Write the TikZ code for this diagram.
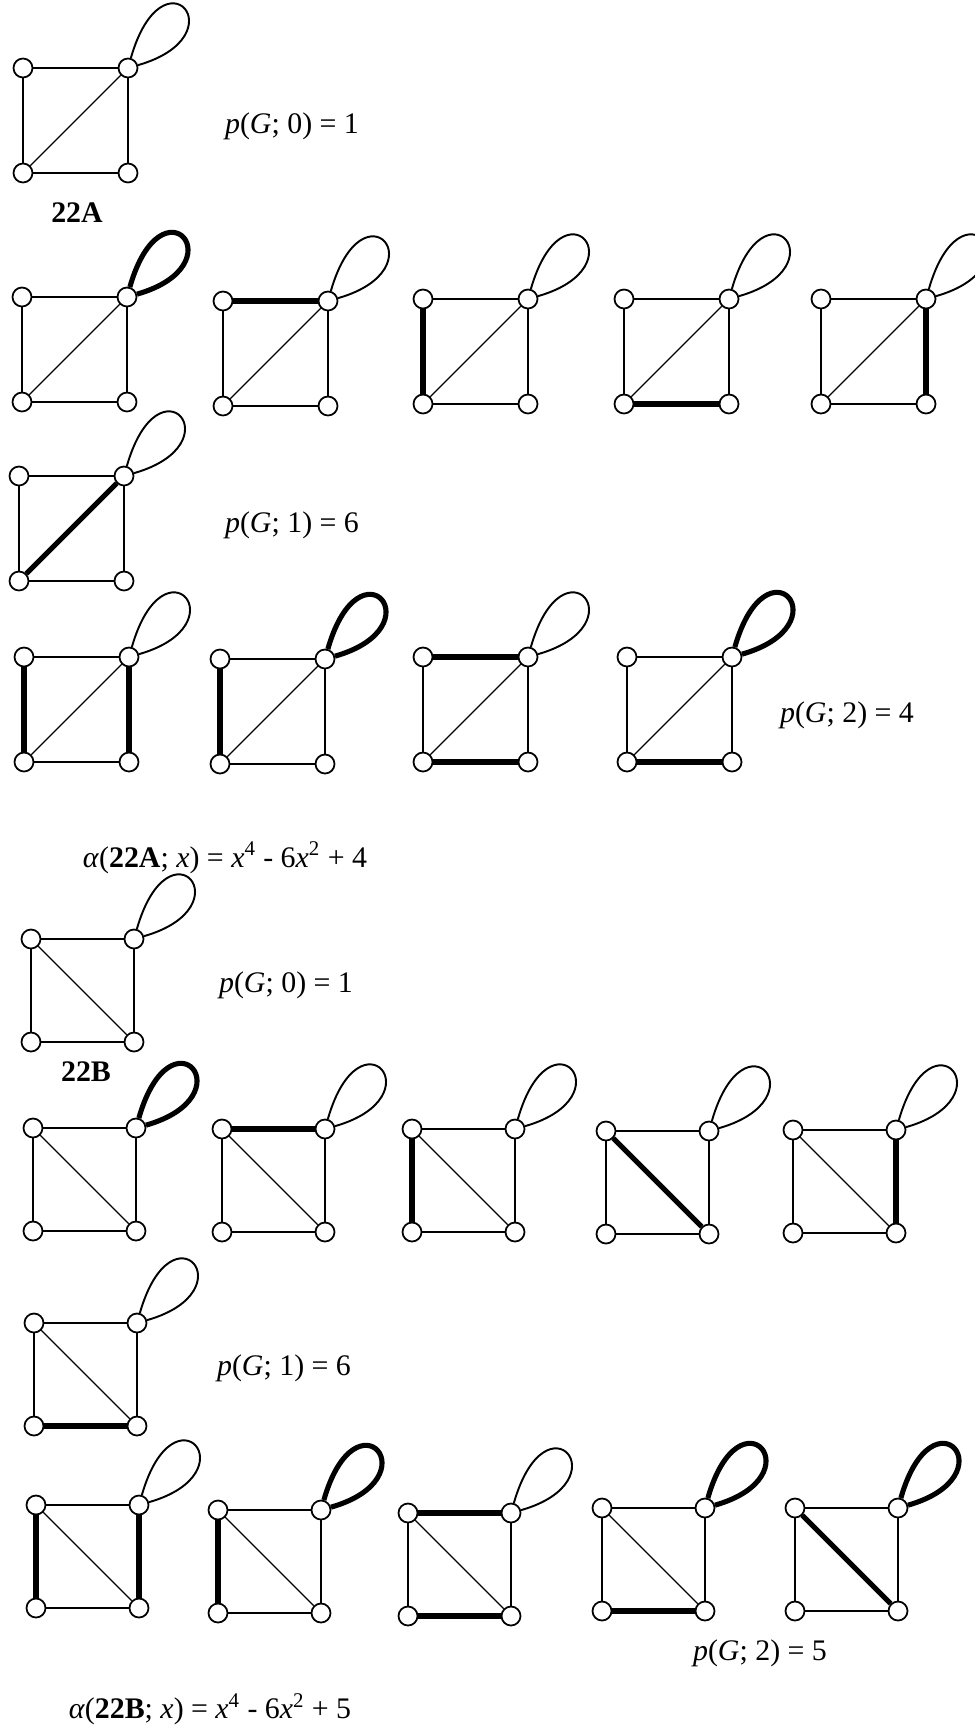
\documentclass[tikz,border=0pt]{standalone}
\usepackage{fontspec}
\setmainfont{Liberation Serif}

% side length and diagonal of the square graphs
\newcommand{\gside}{105}
\newcommand{\dfrom}{bl}
\newcommand{\dto}{tr}

% #1 name, #2 x, #3 y, then styles of: #4 loop, #5 top, #6 left, #7 bottom, #8 right, #9 diagonal
\newcommand{\sqgraph}[9]{%
  \node[vtx] (#1tl) at (#2,#3) {};
  \node[vtx] (#1tr) at (#2+\gside,#3) {};
  \node[vtx] (#1bl) at (#2,#3+\gside) {};
  \node[vtx] (#1br) at (#2+\gside,#3+\gside) {};
  \draw[#4] (#1tr) .. controls +(35,-122) and +(112,-32) .. (#1tr);
  \draw[#5] (#1tl) -- (#1tr);
  \draw[#6] (#1tl) -- (#1bl);
  \draw[#7] (#1bl) -- (#1br);
  \draw[#8] (#1tr) -- (#1br);
  \draw[#9] (#1\dfrom) -- (#1\dto);
}

\begin{document}
\begin{tikzpicture}[
    x=0.02cm, y=-0.02cm,
    vtx/.style={circle, draw, line width=1pt, fill=white, minimum size=0.38cm, inner sep=0pt},
    ed/.style={line width=1.1pt},
    dg/.style={line width=0.7pt},
    sel/.style={line width=2.9pt},
    lbl/.style={anchor=base, inner sep=0pt, font=\fontsize{17}{20}\selectfont}
  ]
  \useasboundingbox (0,0) rectangle (974,1727);

  % Graph 22A
  \sqgraph{a0}{23}{68}{ed}{ed}{ed}{ed}{ed}{dg}
  \node[lbl] (pa0) at (292,133) {\textit{p}(\textit{G}; 0) = 1};
  \node[lbl] (namea) at (77,222) {\textbf{22A}};

  % one edge
  \sqgraph{a1}{22}{297}{sel}{ed}{ed}{ed}{ed}{dg}
  \sqgraph{a2}{223}{301}{ed}{sel}{ed}{ed}{ed}{dg}
  \sqgraph{a3}{423}{299}{ed}{ed}{sel}{ed}{ed}{dg}
  \sqgraph{a4}{624}{299}{ed}{ed}{ed}{sel}{ed}{dg}
  \sqgraph{a5}{821}{299}{ed}{ed}{ed}{ed}{sel}{dg}
  \sqgraph{a6}{19}{476}{ed}{ed}{ed}{ed}{ed}{sel}
  \node[lbl] (pa1) at (292,532) {\textit{p}(\textit{G}; 1) = 6};

  % two edges
  \sqgraph{a7}{24}{657}{ed}{ed}{sel}{ed}{sel}{dg}
  \sqgraph{a8}{220}{659}{sel}{ed}{sel}{ed}{ed}{dg}
  \sqgraph{a9}{423}{657}{ed}{sel}{ed}{sel}{ed}{dg}
  \sqgraph{a10}{627}{657}{sel}{ed}{ed}{sel}{ed}{dg}
  \node[lbl] (pa2) at (847,722) {\textit{p}(\textit{G}; 2) = 4};

  \node[lbl] (polya) at (225,867) {\textit{α}(\textbf{22A}; \textit{x}) = \textit{x}\textsuperscript{4} - 6\textit{x}\textsuperscript{2} + 4};

  % Graph 22B
  \renewcommand{\gside}{103}
  \renewcommand{\dfrom}{tl}
  \renewcommand{\dto}{br}
  \sqgraph{b0}{31}{939}{ed}{ed}{ed}{ed}{ed}{dg}
  \node[lbl] (pb0) at (286,992) {\textit{p}(\textit{G}; 0) = 1};
  \node[lbl] (nameb) at (86,1081) {\textbf{22B}};

  % one edge
  \sqgraph{b1}{33}{1128}{sel}{ed}{ed}{ed}{ed}{dg}
  \sqgraph{b2}{222}{1129}{ed}{sel}{ed}{ed}{ed}{dg}
  \sqgraph{b3}{412}{1129}{ed}{ed}{sel}{ed}{ed}{dg}
  \sqgraph{b4}{606}{1131}{ed}{ed}{ed}{ed}{ed}{sel}
  \sqgraph{b5}{793}{1130}{ed}{ed}{ed}{ed}{sel}{dg}
  \sqgraph{b6}{34}{1323}{ed}{ed}{ed}{sel}{ed}{dg}
  \node[lbl] (pb1) at (284,1375) {\textit{p}(\textit{G}; 1) = 6};

  % two edges
  \sqgraph{b7}{36}{1505}{ed}{ed}{sel}{ed}{sel}{dg}
  \sqgraph{b8}{218}{1510}{sel}{ed}{sel}{ed}{ed}{dg}
  \sqgraph{b9}{408}{1513}{ed}{sel}{ed}{sel}{ed}{dg}
  \sqgraph{b10}{602}{1508}{sel}{ed}{ed}{sel}{ed}{dg}
  \sqgraph{b11}{795}{1508}{sel}{ed}{ed}{ed}{ed}{sel}
  \node[lbl] (pb2) at (760,1660) {\textit{p}(\textit{G}; 2) = 5};

  \node[lbl] (polyb) at (210,1718) {\textit{α}(\textbf{22B}; \textit{x}) = \textit{x}\textsuperscript{4} - 6\textit{x}\textsuperscript{2} + 5};

\end{tikzpicture}
\end{document}
